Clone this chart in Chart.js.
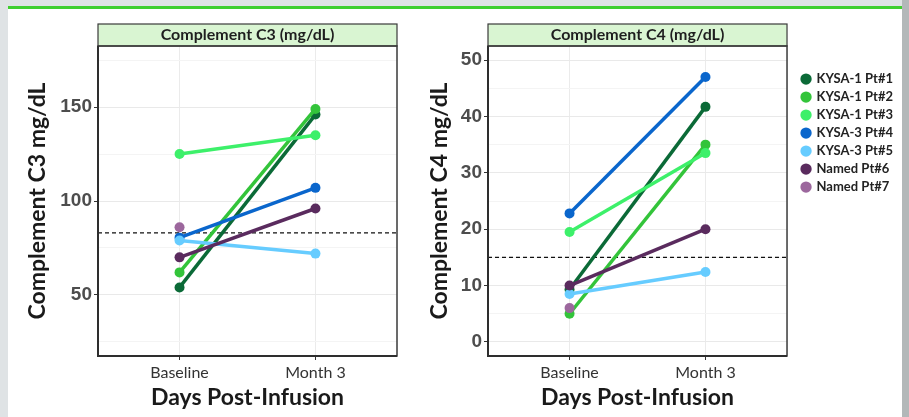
<!DOCTYPE html>
<html>
<head>
<meta charset="utf-8">
<script src="https://cdn.jsdelivr.net/npm/chart.js@4.4.0/dist/chart.umd.min.js"></script>
<style>
  body { margin: 0; width: 909px; height: 417px; background: #dfe3e5; position: relative; overflow: hidden; }
  #card { position: absolute; left: 8px; top: 6px; width: 894px; height: 411px; background: #fff; border-top: 3px solid #3fcf30; box-sizing: border-box; }
  #shade { position: absolute; left: 902px; top: 0; width: 7px; height: 417px; background: #b3b8b9; }
  #c3 { position: absolute; left: 0; top: 0; }
  #c4 { position: absolute; left: 420px; top: 0; }
</style>
</head>
<body>
<div id="shade"></div>
<div id="card"></div>
<canvas id="c3" width="420" height="417"></canvas>
<canvas id="c4" width="489" height="417"></canvas>
<script>
const days = ['Baseline', 'Month 3'];
const dayPos = [1, 2];
const patients = ['KYSA-1 Pt#1', 'KYSA-1 Pt#2', 'KYSA-1 Pt#3', 'KYSA-3 Pt#4', 'KYSA-3 Pt#5', 'Named Pt#6', 'Named Pt#7'];
const patientColors = ['#0b6a37', '#33c43a', '#3df06a', '#0a66cc', '#66ccff', '#5a2b5e', '#9c679d'];

const c3Baseline = [54, 62, 125, 80.5, 79, 70, 86];
const c3Month3 = [146, 149, 135, 107, 72, 96, null];
const c4Baseline = [9.3, 5, 19.5, 22.8, 8.5, 10, 6];
const c4Month3 = [41.7, 35, 33.5, 47, 12.4, 20, null];

const c3Ticks = [50, 100, 150];
const c3Minor = [25, 75, 125, 175];
const c4Ticks = [0, 10, 20, 30, 40, 50];
const c4Minor = [5, 15, 25, 35, 45];
const c3Normal = 83;
const c4Normal = 15;

const xMin = 0.4, xMax = 2.6;

// strip header + panel frame, like ggplot facet
const panelFrame = {
  id: 'panelFrame',
  afterLayout(chart) {
    // leave a gap between panel and legend keys
    if (chart.legend && chart.legend.options.display) chart.legend.left += 10;
  },
  afterDraw(chart, args, opts) {
    const { ctx, chartArea: a } = chart;
    ctx.save();
    ctx.fillStyle = '#d9f5d2';
    ctx.fillRect(a.left, a.top - 22, a.right - a.left, 22);
    ctx.strokeStyle = '#3a3a3a';
    ctx.lineWidth = 1.2;
    ctx.strokeRect(a.left, a.top - 22, a.right - a.left, 22);
    ctx.lineWidth = 1.5;
    ctx.strokeRect(a.left, a.top, a.right - a.left, a.bottom - a.top);
    ctx.strokeStyle = '#2e2e2e';
    ctx.lineWidth = 2;
    ctx.beginPath();
    ctx.moveTo(a.left, a.top);
    ctx.lineTo(a.left, a.bottom);
    ctx.lineTo(a.right, a.bottom);
    ctx.stroke();
    ctx.fillStyle = '#1e1e1e';
    ctx.font = 'bold 16px Lato';
    ctx.textAlign = 'center';
    ctx.textBaseline = 'middle';
    ctx.fillText(opts.text, (a.left + a.right) / 2, a.top - 11);
    ctx.restore();
  }
};

function buildDatasets(base, month3, normal) {
  const sets = patients.map((name, i) => ({
    label: name,
    data: [{ x: dayPos[0], y: base[i] }, { x: dayPos[1], y: month3[i] }],
    borderColor: patientColors[i],
    backgroundColor: patientColors[i],
    borderWidth: 3.5,
    pointRadius: 5,
    pointBorderWidth: 0,
    order: patients.length - i
  }));
  sets.push({
    label: 'normal',
    data: [{ x: xMin, y: normal }, { x: xMax, y: normal }],
    borderColor: '#111',
    borderWidth: 1.2,
    borderDash: [4, 3],
    pointRadius: 0,
    order: 20
  });
  return sets;
}

function makeChart(id, cfg) {
  const major = cfg.ticks;
  const allTicks = major.concat(cfg.minor).sort((a, b) => a - b);
  return new Chart(document.getElementById(id), {
    type: 'line',
    data: { datasets: buildDatasets(cfg.base, cfg.month3, cfg.normal) },
    plugins: [panelFrame],
    options: {
      responsive: false,
      animation: false,
      layout: { padding: cfg.padding },
      scales: {
        x: {
          type: 'linear',
          min: xMin,
          max: xMax,
          afterBuildTicks: s => { s.ticks = dayPos.map(v => ({ value: v })); },
          afterFit: s => { s.height = 61; },
          ticks: {
            callback: v => days[dayPos.indexOf(v)],
            font: { family: 'Lato', size: 16 },
            color: '#333',
            padding: 3
          },
          grid: { color: '#ebebeb', tickLength: 4, tickColor: '#333' },
          border: { display: false },
          title: {
            display: true,
            text: 'Days Post-Infusion',
            font: { family: 'Lato', size: 23, weight: 'bold' },
            color: '#1a1a1a',
            padding: { top: 0, bottom: 6 }
          }
        },
        y: {
          min: cfg.min,
          max: cfg.max,
          afterBuildTicks: s => { s.ticks = allTicks.map(v => ({ value: v })); },
          afterFit: s => { s.width = cfg.axisWidth; },
          ticks: {
            autoSkip: false,
            callback: v => major.includes(v) ? String(v) : '',
            font: { family: 'Liberation Sans', size: 19, weight: 'bold' },
            color: '#4d4d4d',
            padding: 2
          },
          grid: {
            color: c => major.includes(c.tick.value) ? '#e9e9e9' : '#f4f4f4',
            tickLength: 4,
            tickColor: c => major.includes(c.tick.value) ? '#333' : 'rgba(0,0,0,0)'
          },
          border: { display: false },
          title: {
            display: true,
            text: cfg.yTitle,
            font: { family: 'Lato', size: 23, weight: 'bold' },
            color: '#1a1a1a',
            padding: { top: cfg.titlePad, bottom: 0 }
          }
        }
      },
      plugins: {
        panelFrame: { text: cfg.strip },
        tooltip: { enabled: false },
        legend: cfg.legend ? {
          display: true,
          position: 'right',
          align: 'start',
          title: { display: true, text: ' ', padding: 3, font: { size: 13 } },
          labels: {
            usePointStyle: true,
            pointStyle: 'circle',
            boxWidth: 8,
            boxHeight: 8,
            padding: 5,
            font: { family: 'Lato', size: 13, weight: 'bold' },
            color: '#222',
            filter: item => item.datasetIndex < patients.length,
            sort: (a, b) => a.datasetIndex - b.datasetIndex
          }
        } : { display: false }
      }
    }
  });
}

makeChart('c3', {
  base: c3Baseline, month3: c3Month3, normal: c3Normal,
  ticks: c3Ticks, minor: c3Minor, min: 17.5, max: 182.5,
  yTitle: 'Complement C3 mg/dL', strip: 'Complement C3 (mg/dL)',
  axisWidth: 98, titlePad: 24,
  padding: { left: 0, top: 46, right: 23, bottom: 0 },
  legend: false
});

makeChart('c4', {
  base: c4Baseline, month3: c4Month3, normal: c4Normal,
  ticks: c4Ticks, minor: c4Minor, min: -2.5, max: 52.5,
  yTitle: 'Complement C4 mg/dL', strip: 'Complement C4 (mg/dL)',
  axisWidth: 68, titlePad: 6,
  padding: { left: 0, top: 46, right: 16, bottom: 0 },
  legend: true
});
</script>
</body>
</html>
